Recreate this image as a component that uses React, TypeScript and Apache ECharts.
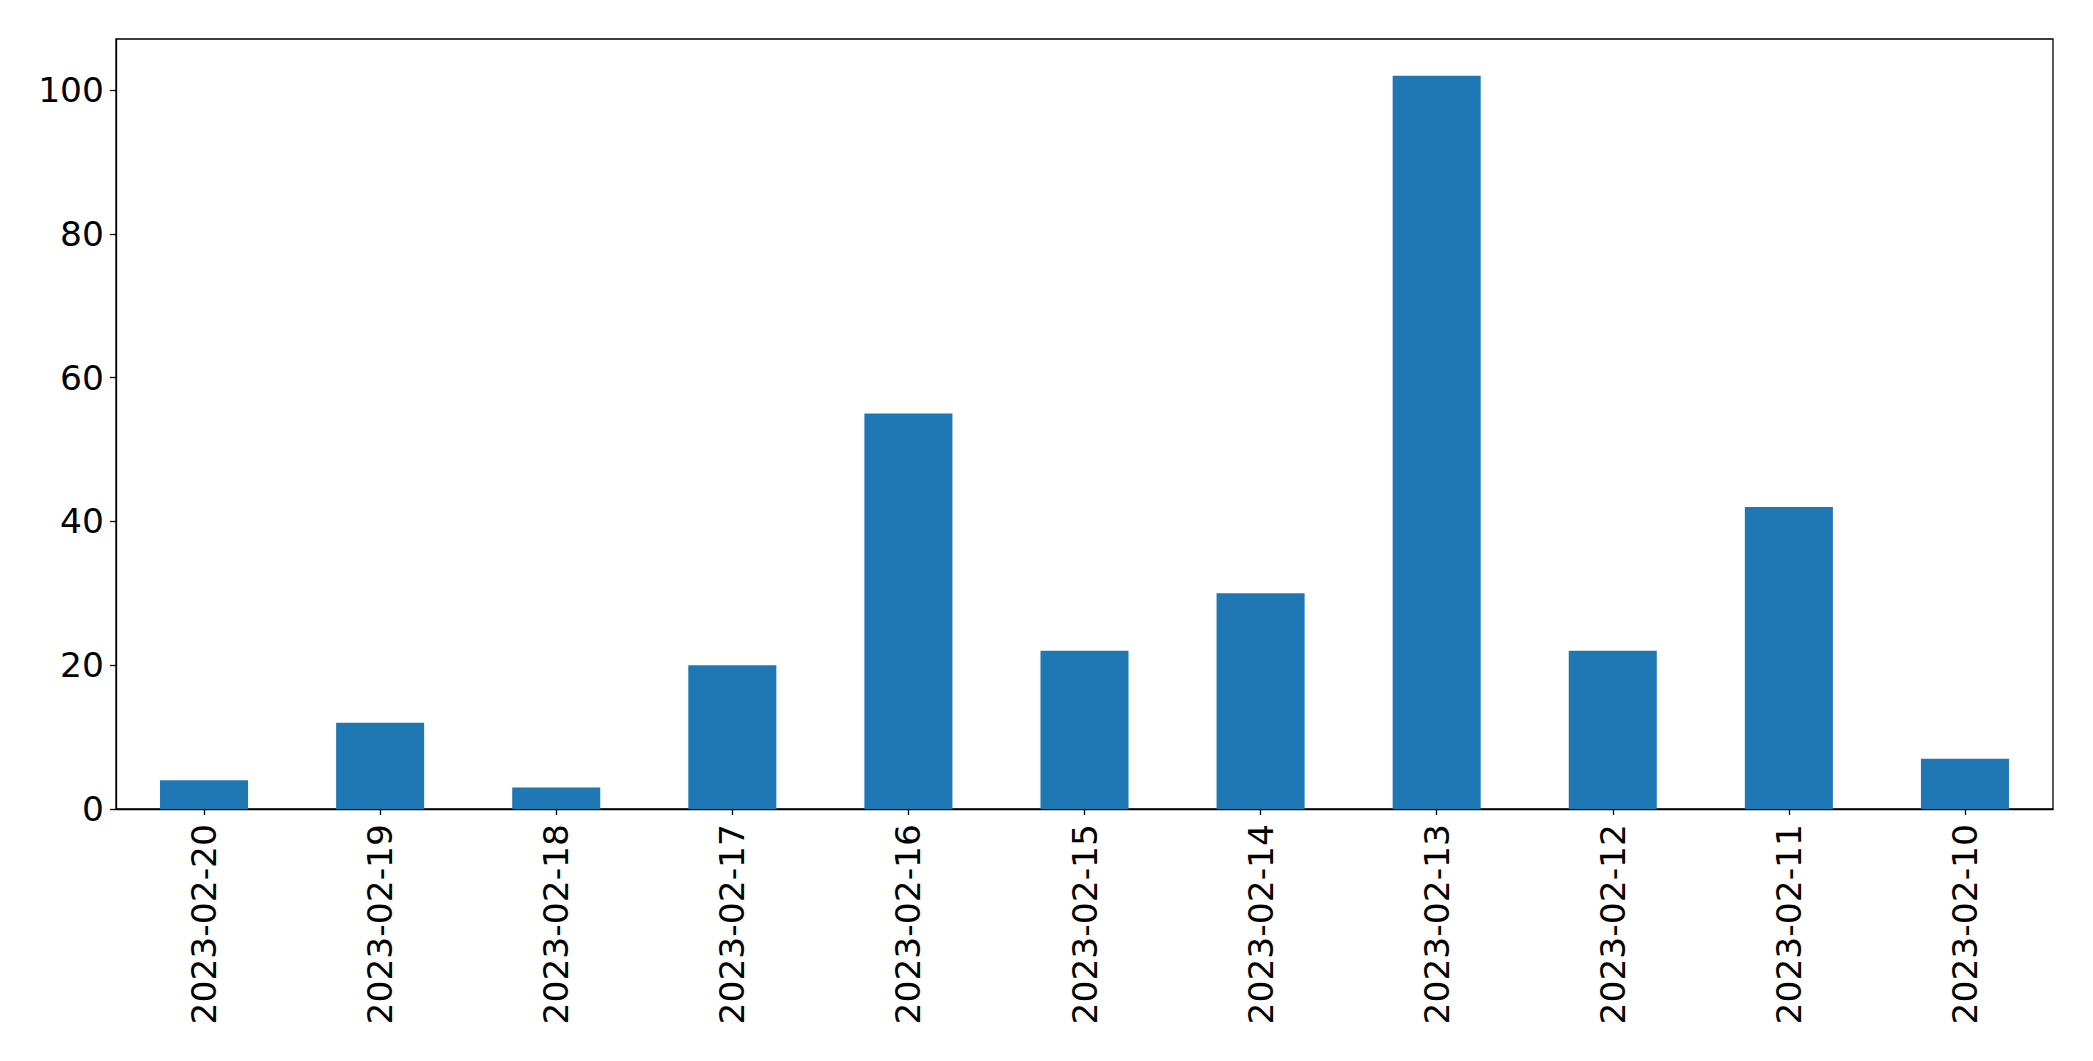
import React, { useEffect, useRef } from "react";
import * as echarts from "echarts";

const categories = [
  "2023-02-20", "2023-02-19", "2023-02-18", "2023-02-17", "2023-02-16", "2023-02-15",
  "2023-02-14", "2023-02-13", "2023-02-12", "2023-02-11", "2023-02-10",
];
const values = [4, 12, 3, 20, 55, 22, 30, 102, 22, 42, 7];
const yTicks = [0, 20, 40, 60, 80, 100];

export default function App() {
  const ref = useRef<HTMLDivElement>(null);
  useEffect(() => {
    document.body.style.margin = "0";
    const chart = echarts.init(ref.current!, null, { renderer: "svg" });
    const font = "DejaVu Sans";
    chart.setOption({
      animation: false,
      backgroundColor: "#ffffff",
      grid: {
        left: 116, top: 39, width: 1937, height: 770,
        show: true, borderColor: "#000", borderWidth: 1.3, backgroundColor: "transparent",
        containLabel: false,
      },
      xAxis: {
        type: "category",
        data: categories,
        boundaryGap: true,
        axisLine: { show: true, lineStyle: { color: "#000", width: 1.3 } },
        axisTick: { show: true, alignWithLabel: true, length: 6, lineStyle: { color: "#000", width: 1.3 } },
        axisLabel: {
          rotate: 90, margin: 15, color: "#000", fontSize: 34.5, fontFamily: font, interval: 0,
        },
        splitLine: { show: false },
      },
      yAxis: {
        type: "value",
        min: 0,
        max: 107.1,
        interval: 20,
        axisLine: { show: true, lineStyle: { color: "#000", width: 1.3 } },
        axisTick: { show: true, length: 6, customValues: yTicks, lineStyle: { color: "#000", width: 1.3 } },
        axisLabel: {
          margin: 12, color: "#000", fontSize: 34.5, fontFamily: font, customValues: yTicks,
        },
        splitLine: { show: false },
      },
      series: [
        {
          type: "bar",
          data: values,
          barWidth: "50%",
          itemStyle: { color: "#1f77b4" },
        },
      ],
    });
    return () => chart.dispose();
  }, []);
  return <div ref={ref} style={{ width: 2093, height: 1061 }} />;
}
